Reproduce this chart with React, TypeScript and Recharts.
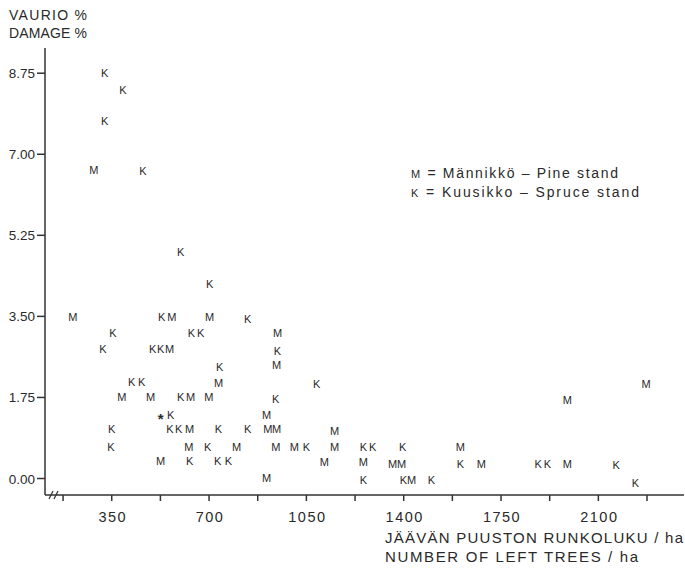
import React from 'react';
import { ScatterChart, Scatter, XAxis, YAxis } from 'recharts';

// Männikkö (pine stand) – stems left per ha / damage %
const pineStems = [286, 210, 566, 702, 946, 558, 943, 734, 386, 490, 634, 699, 907, 630, 911, 943, 1151, 627, 799, 940, 1007, 1151, 1604, 526, 1115, 1255, 1360, 1392, 1679, 1988, 907, 1428, 1988, 2272];
const pineDamage = [6.66, 3.49, 3.49, 3.49, 3.13, 2.8, 2.44, 2.07, 1.75, 1.75, 1.75, 1.75, 1.38, 1.06, 1.06, 1.06, 1.03, 0.69, 0.69, 0.69, 0.69, 0.69, 0.69, 0.37, 0.35, 0.35, 0.32, 0.32, 0.32, 0.32, 0.02, -0.04, 1.7, 2.05];

// Kuusikko (spruce stand)
const spruceStems = [325, 390, 325, 462, 598, 702, 530, 839, 354, 637, 670, 318, 497, 526, 946, 738, 422, 458, 1087, 598, 940, 562, 350, 559, 591, 734, 839, 347, 695, 1050, 1255, 1288, 1396, 630, 731, 770, 1604, 1884, 1917, 2164, 1255, 1399, 1500, 2233];
const spruceDamage = [8.75, 8.38, 7.72, 6.64, 4.89, 4.2, 3.49, 3.45, 3.15, 3.15, 3.15, 2.8, 2.8, 2.8, 2.76, 2.41, 2.09, 2.09, 2.05, 1.75, 1.72, 1.38, 1.06, 1.06, 1.06, 1.06, 1.06, 0.69, 0.69, 0.69, 0.67, 0.67, 0.67, 0.37, 0.37, 0.37, 0.32, 0.32, 0.32, 0.28, -0.04, -0.04, -0.04, -0.09];

// special marked stand (*)
const starStems = [526];
const starDamage = [1.38];

const yTicks = [0, 1.75, 3.5, 5.25, 7, 8.75];
const xTicks = [175, 350, 525, 700, 875, 1050, 1225, 1400, 1575, 1750, 1925, 2100, 2275];
const xLabelled = [350, 700, 1050, 1400, 1750, 2100];

const zip = (xs: number[], ys: number[]) => xs.map((x, i) => ({ x, y: ys[i] }));
const pineData = zip(pineStems, pineDamage);
const spruceData = zip(spruceStems, spruceDamage);
const starData = zip(starStems, starDamage);

const FONT = "'Liberation Sans', Arial, sans-serif";
const INK = '#2a2a2a';

const letterShape = (ch: string, size = 11, shift = 0.36, weight = 'normal') => (props: any) => {
  const { cx, cy } = props;
  if (cx == null || cy == null) return <g />;
  return (
    <text x={cx} y={cy + size * shift} textAnchor="middle" fontSize={size} fontWeight={weight} fontFamily={FONT} fill={INK}>
      {ch}
    </text>
  );
};

const XTick = (props: any) => {
  const { x, payload } = props;
  if (!xLabelled.includes(payload.value)) return <g />;
  return (
    <text x={x + 1} y={522} textAnchor="middle" fontSize={14.5} fontFamily={FONT} fill={INK} letterSpacing={1.5}>
      {payload.value}
    </text>
  );
};

const YTick = (props: any) => {
  const { x, y, payload } = props;
  return (
    <text x={x} y={y + 5} textAnchor="end" fontSize={13.5} fontFamily={FONT} fill={INK}>
      {Number(payload.value).toFixed(2)}
    </text>
  );
};

export default function App() {
  return (
    <div style={{ position: 'absolute', left: 0, top: 0, width: 685, height: 568, background: '#fff' }}>
      <ScatterChart width={685} height={568} margin={{ top: 48, right: 1, bottom: 0, left: 0 }}>
        <XAxis
          type="number"
          dataKey="x"
          domain={[110, 2408]}
          ticks={xTicks}
          tick={XTick}
          tickSize={6}
          height={73}
          stroke="#333"
          strokeWidth={1.5}
          allowDataOverflow
        />
        <YAxis
          type="number"
          dataKey="y"
          domain={[-0.356, 9.294]}
          ticks={yTicks}
          tick={YTick}
          tickSize={8}
          width={45}
          stroke="#333"
          strokeWidth={1.5}
          allowDataOverflow
        />
        <Scatter data={pineData} shape={letterShape('M')} isAnimationActive={false} />
        <Scatter data={spruceData} shape={letterShape('K')} isAnimationActive={false} />
        <Scatter data={starData} shape={letterShape('*', 15, 0.62, 'bold')} isAnimationActive={false} />
      </ScatterChart>
      <svg width={685} height={568} style={{ position: 'absolute', left: 0, top: 0, pointerEvents: 'none' }}>
        <g fontFamily={FONT} fill={INK}>
          <text x={9} y={20} fontSize={14} textLength={78} lengthAdjust="spacing">VAURIO %</text>
          <text x={9} y={38} fontSize={14} textLength={78} lengthAdjust="spacing">DAMAGE %</text>
          <text x={411} y={178} fontSize={14} textLength={207} lengthAdjust="spacing">
            <tspan fontSize={11}>M</tspan> = Männikkö – Pine stand
          </text>
          <text x={411} y={197} fontSize={14} textLength={228} lengthAdjust="spacing">
            <tspan fontSize={11}>K</tspan> = Kuusikko – Spruce stand
          </text>
          <text x={385} y={543} fontSize={15} textLength={298} lengthAdjust="spacing">JÄÄVÄN PUUSTON RUNKOLUKU / ha</text>
          <text x={385} y={562} fontSize={15} textLength={253} lengthAdjust="spacing">NUMBER OF LEFT TREES / ha</text>
        </g>
        <g stroke="#333" strokeWidth={1.3}>
          <line x1={49} y1={499} x2={53} y2={491} />
          <line x1={54} y1={499} x2={58} y2={491} />
        </g>
      </svg>
    </div>
  );
}
